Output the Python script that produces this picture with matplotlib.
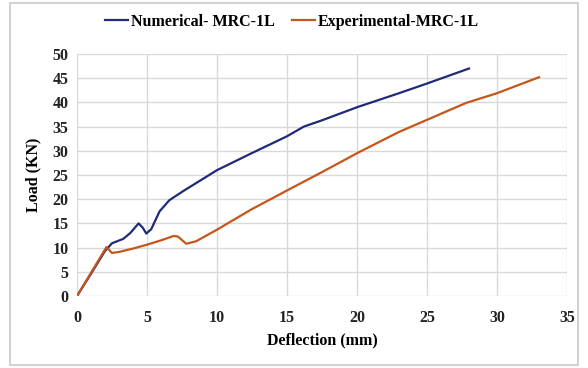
import matplotlib.pyplot as plt
from matplotlib.patches import Rectangle

# Load-deflection readings (mm, kN)
num_defl = [0, 1, 2, 2.5, 3.3, 3.8, 4.4, 4.7, 4.95, 5.3, 5.9, 6.6, 7.6, 10, 12.4, 15, 16.2, 17.5, 20, 23, 25, 28]
num_load = [0, 4.6, 9.3, 10.9, 11.8, 13.0, 15.0, 14.1, 12.9, 13.8, 17.5, 19.8, 21.7, 26.0, 29.4, 33.0, 35.0, 36.3, 39.0, 41.9, 43.9, 47.0]

exp_defl = [0, 1, 2.1, 2.5, 3, 4, 5, 6, 6.9, 7.2, 7.8, 8.5, 10, 12.4, 15, 17.5, 20, 23, 25, 27.8, 30, 33]
exp_load = [0, 4.8, 10.1, 8.9, 9.1, 9.8, 10.6, 11.5, 12.4, 12.3, 10.8, 11.3, 13.7, 17.8, 21.8, 25.6, 29.5, 33.9, 36.4, 39.9, 41.9, 45.2]

x_ticks = [0, 5, 10, 15, 20, 25, 30, 35]
y_ticks = [0, 5, 10, 15, 20, 25, 30, 35, 40, 45, 50]

plt.rcParams['font.family'] = ['Liberation Serif', 'DejaVu Serif']
plt.rcParams['font.weight'] = 'bold'

fig = plt.figure(figsize=(5.88, 3.68), dpi=100)
fig.patches.append(Rectangle((10 / 588, 3 / 368), 568 / 588, 362 / 368,
                             transform=fig.transFigure, fill=False,
                             edgecolor='#c8c8c8', linewidth=1.2))

ax = fig.add_axes([77 / 588, 72 / 368, 490 / 588, 242 / 368])
ax.plot(num_defl, num_load, color='#1f2a78', linewidth=1.6, label='Numerical- MRC-1L')
ax.plot(exp_defl, exp_load, color='#c5561b', linewidth=1.6, label='Experimental-MRC-1L')

ax.set_xlim(0, 35)
ax.set_ylim(0, 50)
ax.set_xticks(x_ticks)
ax.set_yticks(y_ticks)
ax.tick_params(length=0, labelsize=11.5, colors='#222222')
ax.tick_params(axis='x', pad=10)
ax.tick_params(axis='y', pad=6)
for lab in ax.get_xticklabels() + ax.get_yticklabels():
    lab.set_fontweight('bold')

ax.grid(True, color='#d9d9d9', linewidth=1)
ax.set_axisbelow(True)
for s in ax.spines.values():
    s.set_visible(False)

ax.set_xlabel('Deflection (mm)', fontsize=11.5, fontweight='bold', labelpad=5)
ax.set_ylabel('Load (KN)', fontsize=11.5, fontweight='bold', labelpad=8)

fig.legend(loc='center', bbox_to_anchor=(292 / 588, 1 - 22 / 368), ncol=2,
           frameon=False, handlelength=1.4, handletextpad=0.2,
           columnspacing=1.1, prop={'weight': 'bold', 'size': 11.5})

fig.savefig('out.png', dpi=100)
